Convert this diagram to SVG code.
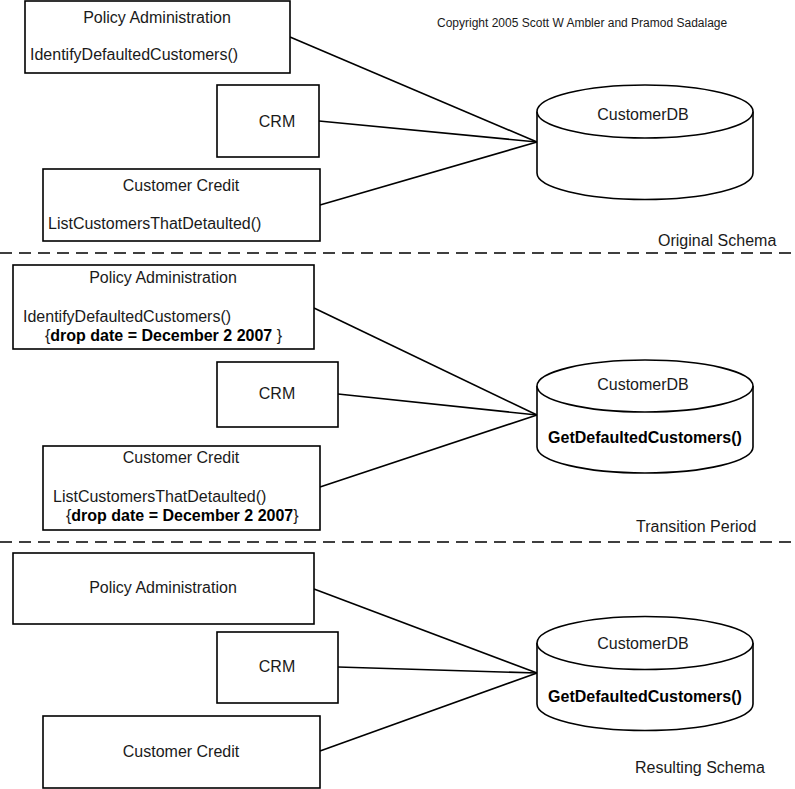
<svg xmlns="http://www.w3.org/2000/svg" width="795" height="789" viewBox="0 0 795 789">
<style>
text{font-family:"Liberation Sans",Arial,sans-serif;font-size:16px;fill:#1a1a1a}
.b{font-weight:bold;fill:#000}
.m{text-anchor:middle}
.box{fill:#fff;stroke:#000;stroke-width:1.6}
.cyl{fill:#fff;stroke:#000;stroke-width:1.6}
.conn line{stroke:#000;stroke-width:1.6}
.sep{stroke:#000;stroke-width:1.6;stroke-dasharray:12 7}
.copy{font-size:12px}
</style>
<rect width="795" height="789" fill="#fff"/>
<g id="connectors" class="conn">
<line x1="290" y1="37" x2="537" y2="142"/>
<line x1="319" y1="121" x2="537" y2="142"/>
<line x1="320" y1="205" x2="537" y2="142"/>
<line x1="314" y1="308" x2="537" y2="415"/>
<line x1="338" y1="394" x2="537" y2="415"/>
<line x1="320" y1="487" x2="537" y2="415"/>
<line x1="314" y1="589" x2="537" y2="673"/>
<line x1="338" y1="667" x2="537" y2="673"/>
<line x1="320" y1="751" x2="537" y2="673"/>
</g>
<g id="separators">
<line class="sep" x1="0" y1="253" x2="795" y2="253"/>
<line class="sep" x1="0" y1="542" x2="795" y2="542"/>
</g>
<text id="copyright" class="copy" x="437" y="27">Copyright 2005 Scott W Ambler and Pramod Sadalage</text>
<text id="label-original" x="658" y="246">Original Schema</text>
<text id="label-transition" x="636" y="532">Transition Period</text>
<text id="label-resulting" x="635" y="773">Resulting Schema</text>

<!-- Section 1 -->
<g id="s1-policy">
<rect class="box" x="25" y="1" width="265" height="72"/>
<text class="m" x="157" y="23">Policy Administration</text>
<text x="30" y="60">IdentifyDefaultedCustomers()</text>
</g>
<g id="s1-crm">
<rect class="box" x="217" y="85" width="102" height="72"/>
<text class="m" x="277" y="127">CRM</text>
</g>
<g id="s1-credit">
<rect class="box" x="43" y="169" width="277" height="72"/>
<text class="m" x="181" y="191">Customer Credit</text>
<text x="48" y="229">ListCustomersThatDetaulted()</text>
</g>
<g id="s1-db">
<path class="cyl" d="M537,111.5 V173 A108,26.5 0 0 0 753,173 V111.5"/>
<ellipse class="cyl" cx="645" cy="111.5" rx="108" ry="26.5"/>
<text class="m" x="643" y="120">CustomerDB</text>
</g>

<!-- Section 2 -->
<g id="s2-policy">
<rect class="box" x="13" y="265" width="301" height="84"/>
<text class="m" x="163" y="283">Policy Administration</text>
<text x="23" y="322">IdentifyDefaultedCustomers()</text>
<text x="45" y="341">{<tspan class="b">drop date = December 2 2007 </tspan>}</text>
</g>
<g id="s2-crm">
<rect class="box" x="217" y="362" width="121" height="65"/>
<text class="m" x="277" y="399">CRM</text>
</g>
<g id="s2-credit">
<rect class="box" x="43" y="446" width="277" height="84"/>
<text class="m" x="181" y="463">Customer Credit</text>
<text x="53" y="502">ListCustomersThatDetaulted()</text>
<text x="66" y="521">{<tspan class="b">drop date = December 2 2007</tspan>}</text>
</g>
<g id="s2-db">
<path class="cyl" d="M537,386 V447 A108,26 0 0 0 753,447 V386"/>
<ellipse class="cyl" cx="645" cy="386" rx="108" ry="26"/>
<text class="m" x="643" y="390">CustomerDB</text>
<text class="m b" x="645" y="443">GetDefaultedCustomers()</text>
</g>

<!-- Section 3 -->
<g id="s3-policy">
<rect class="box" x="13" y="553" width="301" height="71"/>
<text class="m" x="163" y="593">Policy Administration</text>
</g>
<g id="s3-crm">
<rect class="box" x="217" y="632" width="121" height="71"/>
<text class="m" x="277" y="672">CRM</text>
</g>
<g id="s3-credit">
<rect class="box" x="43" y="716" width="277" height="72"/>
<text class="m" x="181" y="757">Customer Credit</text>
</g>
<g id="s3-db">
<path class="cyl" d="M537,643 V704 A108,26.5 0 0 0 753,704 V643"/>
<ellipse class="cyl" cx="645" cy="643" rx="108" ry="26.5"/>
<text class="m" x="643" y="649">CustomerDB</text>
<text class="m b" x="645" y="702">GetDefaultedCustomers()</text>
</g>
</svg>
